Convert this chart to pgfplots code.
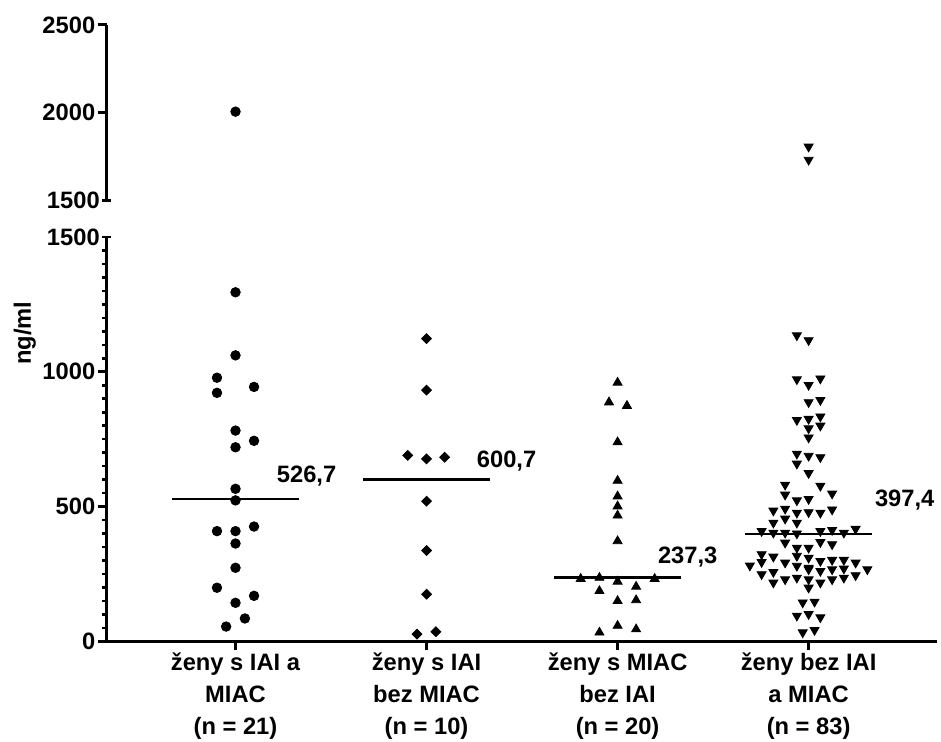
\documentclass[border=0pt]{standalone}
\usepackage{pgfplots}
\pgfplotsset{compat=1.18}
\usepackage{fontspec}
\setmainfont{Liberation Sans}
\newcommand{\lbl}{\fontsize{11.9}{16}\selectfont\bfseries}

\pgfplotsset{
  brokenaxis/.style={
    scale only axis,
    width=417pt,
    xmin=0.325, xmax=4.673,
    axis y line*=left,
    axis line style={line width=1.5pt},
    major tick style={line width=1.4pt, black},
    minor tick style={line width=1.3pt, black},
    tick align=outside,
    major tick length=4.5pt,
    minor tick length=2.3pt,
    scaled y ticks=false,
    /pgf/number format/assume math mode=true,
    /pgf/number format/1000 sep={},
    yticklabel style={font=\lbl, inner sep=1pt},
    clip=false,
  },
  dots/.style={only marks, black, mark=*, mark size=2.4pt},
  diam/.style={only marks, black, mark=square*, mark size=1.75pt, mark options={rotate=45}},
  triup/.style={only marks, black, mark=triangle*, mark size=2.6pt},
  tridown/.style={only marks, black, mark=triangle*, mark size=2.6pt, mark options={rotate=180}},
  med/.style={black, line width=1.1pt, mark=none},
}

\begin{document}
\begin{tikzpicture}
% lower segment 0-1500
\begin{axis}[brokenaxis, at={(0,0)}, anchor=south west, height=203pt,
  ymin=0, ymax=1500, ytick={0,500,1000},
  extra y ticks={1500}, extra y tick style={tick align=center},
  minor ytick={0,50,...,1500},
  axis x line*=bottom,
  xtick={1,2,3,4},
  xticklabels={{ženy s IAI a\\MIAC\\(n = 21)},{ženy s IAI\\bez MIAC\\(n = 10)},{ženy s MIAC\\bez IAI\\(n = 20)},{ženy bez IAI\\a MIAC\\(n = 83)}},
  xticklabel style={align=center, font=\lbl, inner sep=1pt},
]
\addplot[dots] coordinates {(1,1295) (1,1061) (0.903,978) (0.903,922) (1.097,944) (1,782) (1,720) (1.097,744) (1,566) (1,523) (0.903,409) (1,409) (1.097,426) (1,363) (1,273) (0.903,199) (1,143) (1.097,169) (0.951,55) (1.049,85)};
\addplot[diam] coordinates {(2,1123) (2,932) (1.901,690) (2,677) (2.095,683) (2,520) (2,337) (2,175) (1.95,27) (2.049,36)};
\addplot[triup] coordinates {(3,960) (2.955,887) (3.049,874) (3,739) (3,596) (3,538) (3,501) (3,467) (3,372) (2.807,232) (2.905,236) (3,222) (3.194,232) (2.905,187) (3.097,203) (3,150) (3.097,153) (2.905,33) (3,58) (3.097,45)};
\addplot[tridown] coordinates {
(3.9385,1135) (4,1117) (3.9385,972) (4,951) (4.0615,975) (4,887) (4.0615,895) (3.9385,821) (4,825) (4,790) (4.0615,834) (4.0615,800) (4,756)
(3.9385,696) (4,688) (4.0615,683) (3.9385,659) (4,624) (3.877,581) (4.0615,577) (3.877,544) (4.123,548) (3.9385,523) (4,528)
(3.8155,485) (3.877,492) (3.9385,477) (4,479) (4.0615,477) (4.123,489)
(3.8155,440) (3.877,455) (3.9385,440)
(3.754,409) (3.8155,403) (3.877,403) (3.9385,400) (4.0615,409) (4.123,413) (4.1845,403) (4.246,417)
(3.877,366) (3.9385,347) (4,347) (4.0615,368) (4.123,360)
(3.754,323) (3.8155,314) (3.9385,317) (4,310)
(3.754,294) (3.877,292) (3.9385,280) (4,273) (4.0615,298) (4.123,302) (4.1845,302) (4.246,292)
(3.754,249) (3.8155,257) (4,267) (4.0615,261) (4.123,267) (4.1845,270)
(3.8155,218) (3.877,230) (3.9385,236) (4,230) (4.0615,218) (4.123,230) (4.1845,236) (4.246,245)
(4,199) (3.969,144) (4.031,147) (3.9385,95) (4,101) (4.0615,89) (3.969,33) (4.031,42)
(3.6925,281) (4.3075,267)};
\addplot[med] coordinates {(0.667,526.7) (1.333,526.7)};
\addplot[med] coordinates {(1.667,600.7) (2.333,600.7)};
\addplot[med] coordinates {(2.667,237.3) (3.333,237.3)};
\addplot[med] coordinates {(3.667,397.4) (4.333,397.4)};
\node[font=\lbl] at (axis cs:1.372,613) {526,7};
\node[font=\lbl] at (axis cs:2.419,669) {600,7};
\node[font=\lbl] at (axis cs:3.367,314) {237,3};
\node[font=\lbl] at (axis cs:4.503,526) {397,4};
\end{axis}
% upper segment 1500-2500
\begin{axis}[brokenaxis, at={(0,221.5pt)}, anchor=south west, height=88pt,
  ymin=1500, ymax=2500, ytick={2000,2500},
  extra y ticks={1500}, extra y tick style={tick align=center},
  axis x line=none, xtick=\empty,
]
\addplot[dots] coordinates {(1,2005)};
\addplot[tridown] coordinates {(4,1805) (4,1730)};
\end{axis}
\node[rotate=90, font=\lbl] at (-41pt,154.75pt) {ng/ml};
\path (-53.5pt,-48.5pt) rectangle (417pt,322pt);
\end{tikzpicture}
\end{document}
